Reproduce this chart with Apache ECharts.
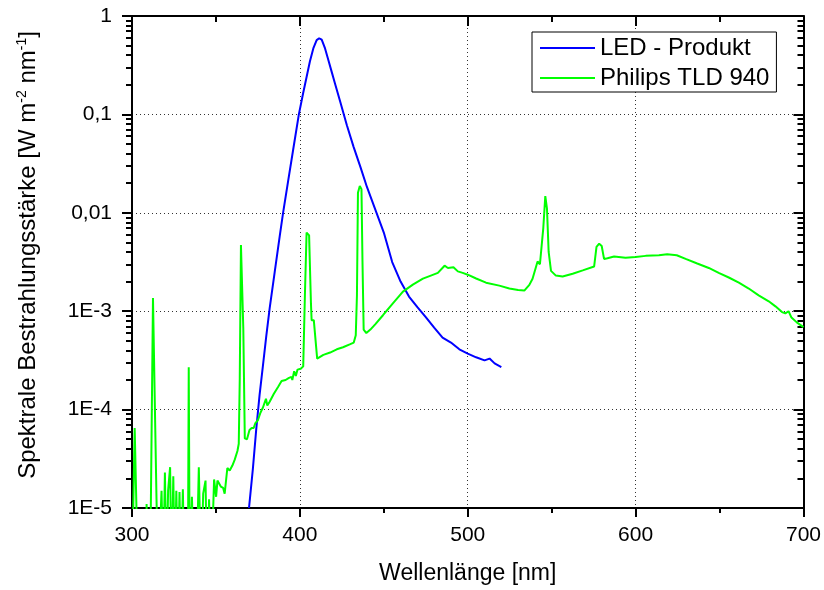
<!DOCTYPE html>
<html>
<head>
<meta charset="utf-8">
<script src="https://cdn.jsdelivr.net/npm/echarts@6.0.0/dist/echarts.min.js"></script>
<style>
  html, body { margin: 0; padding: 0; background: #fff; }
  #chart { width: 824px; height: 590px; }
</style>
</head>
<body>
<div id="chart"></div>
<script>
// LED - Produkt (Wellenlänge in nm, Bestrahlungsstärke in W m-2 nm-1)
var ledWl = [369.7, 372, 374, 376, 378, 380, 382, 385, 388, 390, 393, 396, 399.4, 402, 404, 406, 408, 410, 411.5,
  413, 415, 417, 419, 421, 424, 428, 432, 436, 440, 445, 450, 455, 460, 465, 470, 475, 480, 485, 490, 495, 500,
  505, 510, 513, 516, 520];
var ledVal = [1e-5, 2.5e-5, 6.3e-5, 1.41e-4, 2.8e-4, 5.6e-4, 1.07e-3, 2.5e-3, 5.8e-3, 0.01, 0.021, 0.0437, 0.1,
  0.166, 0.24, 0.347, 0.468, 0.569, 0.594, 0.575, 0.468, 0.355, 0.269, 0.204, 0.135, 0.0776, 0.0468, 0.0295,
  0.0182, 0.0107, 6.3e-3, 3.16e-3, 2.0e-3, 1.41e-3, 1.1e-3, 8.7e-4, 6.8e-4, 5.4e-4, 4.8e-4, 4.1e-4, 3.7e-4,
  3.4e-4, 3.16e-4, 3.3e-4, 2.95e-4, 2.7e-4];

// Philips TLD 940 (2e-6 = unter der Achse)
var tldWl = [300, 301, 301.6, 302.6, 303.2, 308.4, 308.7, 309.3, 310.8, 312.5, 313.0, 314.6, 315.6, 316.6, 317.6,
  318.6, 319.6, 320.6, 321.5, 322.7, 323.6, 324.6, 325.5, 326.4, 327.4, 328.3, 329.2, 330.3, 331.2, 333.3, 333.8,
  334.4, 335.7, 337.0, 338.4, 339.8, 341.2, 342.4, 343.8, 344.8, 345.9, 347.1, 348.9, 350.1, 350.9, 352.9, 354.3,
  355.2, 356.8, 358.2, 359.8, 361.2, 362.8, 363.6, 364.2, 364.9, 365.5, 366.3, 367.2, 368.5, 370.0, 371.3, 372.5,
  373.5, 375.0, 376.5, 378.0, 379.8, 380.6, 382.0, 384.5, 387.0, 389.1, 391.5, 393.5, 395.0, 395.5, 396.6, 397.6,
  398.6, 400.5, 402.0, 403.0, 404.0, 405.5, 406.6, 407.0, 408.3, 410.3, 414, 418, 422, 425.7, 429.7, 432.1, 433.3,
  434.0, 434.6, 435.7, 436.7, 437.3, 438.0, 439.6, 442, 445, 449.5, 455.4, 461.4, 467.3, 473.3, 478, 482.2, 486.2,
  488.2, 491.5, 494.1, 497, 500, 505, 510.9, 518.8, 524.8, 530, 533.7, 536.7, 538.6, 540.6, 541.6, 543.0, 544.0,
  545.0, 546.2, 547.2, 548.2, 549.6, 552.5, 556.5, 562.5, 568.5, 575.3, 576.7, 578.3, 579.8, 581.2, 583.2, 587.2,
  594, 600, 606, 613.9, 618.8, 624.5, 629.8, 636.7, 643.6, 649.5, 655.5, 661.5, 667.4, 673.3, 679.3, 683.3, 687.2,
  689.2, 691.1, 692.7, 696, 700];
var tldVal = [2e-6, 2e-6, 6.5e-5, 1.1e-5, 2e-6, 2e-6, 1.1e-5, 2e-6, 2e-6, 1.36e-3, 1.3e-3, 1.23e-5, 2e-6, 2e-6, 1.5e-5,
  2e-6, 2.3e-5, 2e-6, 1.5e-5, 2.6e-5, 2e-6, 2.1e-5, 2e-6, 1.5e-5, 2e-6, 1.45e-5, 2e-6, 1.55e-5, 2e-6, 2e-6, 2.7e-4,
  2e-6, 1.3e-5, 2e-6, 2e-6, 2.6e-5, 2e-6, 1.4e-5, 1.9e-5, 2e-6, 1.23e-5, 2e-6, 1.95e-5, 1.3e-5, 1.9e-5, 1.65e-5, 1.6e-5,
  1.4e-5, 2.55e-5, 2.4e-5, 2.7e-5, 3.1e-5, 3.8e-5, 4.5e-5, 2.1e-4, 4.7e-3, 4.6e-3, 6.7e-4, 5.1e-5, 5e-5, 6.2e-5, 6.5e-5, 6.5e-5,
  7.3e-5, 7.8e-5, 9.3e-5, 1.05e-4, 1.29e-4, 1.1e-4, 1.2e-4, 1.45e-4, 1.7e-4, 1.95e-4, 2.0e-4, 2.1e-4, 2.15e-4, 2.0e-4, 2.45e-4, 2.2e-4,
  2.55e-4, 2.6e-4, 2.75e-4, 1.45e-3, 6.3e-3, 5.9e-3, 1.2e-3, 8.1e-4, 8.1e-4, 3.3e-4, 3.6e-4, 3.8e-4, 4.1e-4, 4.3e-4, 4.6e-4, 4.8e-4, 5.7e-4,
  1.45e-3, 0.016, 0.0187, 0.0174, 3.2e-3, 6.5e-4, 6.0e-4, 6.5e-4, 7.4e-4, 9.1e-4, 1.2e-3, 1.58e-3, 1.86e-3, 2.14e-3, 2.3e-3, 2.45e-3, 2.9e-3,
  2.75e-3, 2.79e-3, 2.54e-3, 2.45e-3, 2.35e-3, 2.15e-3, 1.95e-3, 1.82e-3, 1.7e-3, 1.64e-3, 1.62e-3, 1.85e-3, 2.14e-3, 2.8e-3, 3.2e-3, 3.0e-3, 3.1e-3,
  7e-3, 0.0148, 0.011, 4e-3, 2.57e-3, 2.3e-3, 2.25e-3, 2.4e-3, 2.6e-3, 2.85e-3, 4.5e-3, 4.85e-3, 4.6e-3, 3.4e-3, 3.45e-3, 3.6e-3,
  3.5e-3, 3.55e-3, 3.65e-3, 3.7e-3, 3.8e-3, 3.7e-3, 3.4e-3, 3.05e-3, 2.75e-3, 2.45e-3, 2.2e-3, 1.95e-3, 1.7e-3, 1.45e-3, 1.26e-3, 1.12e-3, 9.8e-4,
  9.5e-4, 1.0e-3, 8.7e-4, 7.7e-4, 6.9e-4];

var seriesNames = ['LED - Produkt', 'Philips TLD 940'];
var seriesColors = ['#0000ff', '#00ff00'];

function pairs(xs, ys) {
  return xs.map(function (x, i) { return [x, ys[i]]; });
}

// 1 -> "1", 0.1 -> "0,1", 0.001 -> "1E-3"
function yFmt(v) {
  var e = Math.round(Math.log10(v));
  if (e === 0) return '1';
  if (e >= -2) return '0,' + '0'.repeat(-e - 1) + '1';
  return '1E' + e;
}

var font = 'Liberation Sans, Arial, sans-serif';
var black = '#000';
var dotted = { type: [1, 3], color: '#333', width: 1 };
var axisPen = { color: black, width: 2 };

var myChart = echarts.init(document.getElementById('chart'));
var option = {
  animation: false,
  backgroundColor: '#fff',
  textStyle: { fontFamily: font },
  grid: { left: 132, right: 19, top: 16, bottom: 79 },
  legend: {
    orient: 'vertical',
    left: 532, top: 32,
    backgroundColor: '#fff',
    borderColor: black, borderWidth: 1, borderRadius: 0,
    padding: [4, 7, 2, 8],
    icon: 'rect',
    itemWidth: 55, itemHeight: 2, itemGap: 6,
    textStyle: { fontSize: 24, color: black, fontFamily: font },
    data: seriesNames
  },
  xAxis: [{
    type: 'value', min: 300, max: 700, interval: 100, position: 'bottom',
    name: 'Wellenlänge [nm]', nameLocation: 'middle', nameGap: 54,
    nameTextStyle: { fontSize: 23, color: black, fontFamily: font },
    axisLine: { show: true, onZero: false, lineStyle: axisPen },
    axisTick: { show: true, length: 9, lineStyle: axisPen },
    minorTick: { show: true, splitNumber: 2, length: 5, lineStyle: axisPen },
    axisLabel: { fontSize: 21, color: black, margin: 17, fontFamily: font },
    splitLine: { show: true, lineStyle: dotted }
  }, {
    type: 'value', min: 300, max: 700, interval: 100, position: 'top',
    axisLine: { show: true, onZero: false, lineStyle: axisPen },
    axisTick: { show: true, inside: true, length: 10, lineStyle: axisPen },
    minorTick: { show: true, splitNumber: 2, length: 6, lineStyle: axisPen },
    axisLabel: { show: false },
    splitLine: { show: false }
  }],
  yAxis: [{
    type: 'log', logBase: 10, min: 1e-5, max: 1, position: 'left',
    name: '{a|Spektrale Bestrahlungsstärke [W m}{s|-2}{a| nm}{s|-1}{a|]}',
    nameLocation: 'middle', nameGap: 90,
    nameTextStyle: {
      color: black,
      padding: [0, 0, 0, 14],
      rich: {
        a: { fontSize: 24, color: black, fontFamily: font, lineHeight: 27 },
        s: { fontSize: 14, color: black, fontFamily: font, verticalAlign: 'top', lineHeight: 27 }
      }
    },
    axisLine: { show: true, onZero: false, lineStyle: axisPen },
    axisTick: { show: true, length: 10, lineStyle: axisPen },
    minorTick: { show: true, splitNumber: 9, length: 6, lineStyle: axisPen },
    axisLabel: { fontSize: 21, color: black, margin: 20, formatter: yFmt, fontFamily: font },
    splitLine: { show: true, lineStyle: dotted }
  }, {
    type: 'log', logBase: 10, min: 1e-5, max: 1, position: 'right',
    axisLine: { show: true, onZero: false, lineStyle: axisPen },
    axisTick: { show: true, inside: true, length: 10, lineStyle: axisPen },
    minorTick: { show: true, splitNumber: 9, length: 6, lineStyle: axisPen },
    axisLabel: { show: false },
    splitLine: { show: false }
  }],
  series: [{
    name: seriesNames[0], type: 'line', xAxisIndex: 0, yAxisIndex: 0,
    symbol: 'none', clip: true,
    lineStyle: { color: seriesColors[0], width: 2 },
    itemStyle: { color: seriesColors[0] },
    data: pairs(ledWl, ledVal)
  }, {
    name: seriesNames[1], type: 'line', xAxisIndex: 0, yAxisIndex: 0,
    symbol: 'none', clip: true,
    lineStyle: { color: seriesColors[1], width: 2 },
    itemStyle: { color: seriesColors[1] },
    data: pairs(tldWl, tldVal)
  }]
};
myChart.setOption(option);
</script>
</body>
</html>
